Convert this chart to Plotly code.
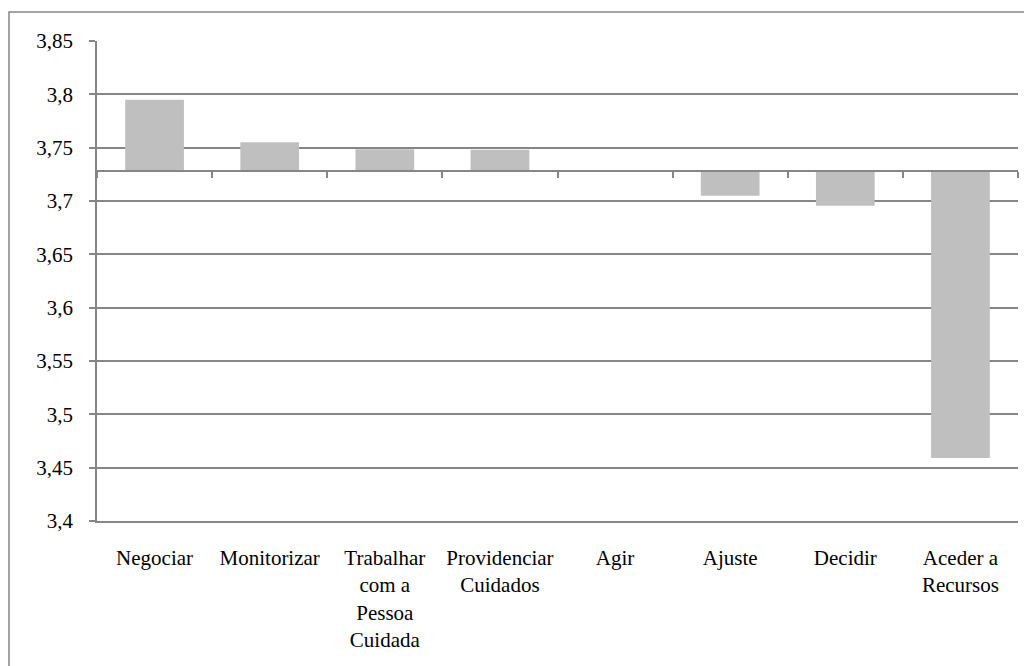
import plotly.graph_objects as go

categories = ["Negociar", "Monitorizar", "Trabalhar<br>com a<br>Pessoa<br>Cuidada",
              "Providenciar<br>Cuidados", "Agir", "Ajuste", "Decidir", "Aceder a<br>Recursos"]
values = [3.795, 3.755, 3.7485, 3.748, 3.728, 3.705, 3.6955, 3.459]
axis_cross = 3.728
y_min, y_max, y_step = 3.4, 3.85, 0.05

GRID = "#868686"
FONT = dict(family="'Times New Roman', 'Liberation Serif', serif", size=21, color="black")

fig = go.Figure()
fig.add_trace(go.Bar(
    x=categories,
    y=[v - axis_cross for v in values],
    base=axis_cross,
    width=0.51,
    marker=dict(color="#bfbfbf", line=dict(width=0)),
    hoverinfo="skip",
    showlegend=False,
))

cross_pos = (axis_cross - y_min) / (y_max - y_min)

fig.update_layout(
    width=1024, height=658,
    margin=dict(l=89, r=14, t=33, b=145, pad=0),
    paper_bgcolor="white", plot_bgcolor="white",
    separators=",.",
    font=FONT,
    xaxis=dict(
        type="category", categoryorder="array", categoryarray=categories,
        range=[-0.5, len(categories) - 0.5],
        showgrid=False, zeroline=False,
        showline=True, linecolor=GRID, linewidth=1.5,
        ticks="", ticklabelstandoff=17, tickangle=0,
        tickfont=FONT,
    ),
    xaxis2=dict(
        overlaying="x", anchor="free", position=cross_pos,
        range=[-0.5, len(categories) - 0.5],
        tickmode="linear", tick0=-0.5, dtick=1,
        showticklabels=False, showgrid=False, zeroline=False,
        showline=True, linecolor=GRID, linewidth=1.5,
        ticks="outside", ticklen=6, tickcolor=GRID, tickwidth=1.5,
    ),
    yaxis=dict(
        range=[y_min, y_max], tick0=y_min, dtick=y_step, tickmode="linear",
        showgrid=True, gridcolor=GRID, gridwidth=1.5,
        zeroline=False,
        showline=True, linecolor=GRID, linewidth=1.5,
        ticks="outside", ticklen=6, tickcolor=GRID, tickwidth=1.5,
        ticklabelstandoff=12,
        tickfont=FONT,
    ),
)

# dummy invisible trace to activate xaxis2
fig.add_trace(go.Scatter(x=[0], y=[axis_cross], xaxis="x2", mode="markers",
                         marker=dict(opacity=0), hoverinfo="skip", showlegend=False))

# outer chart-area border (only top & left edges visible in the reference)
fig.add_shape(type="rect", xref="paper", yref="paper",
              x0=(9 - 97) / 921, x1=1.05, y0=-0.4, y1=(521 - 12) / 480,
              line=dict(color=GRID, width=1.5), fillcolor="rgba(0,0,0,0)", layer="below")

fig.write_html("out.html")
